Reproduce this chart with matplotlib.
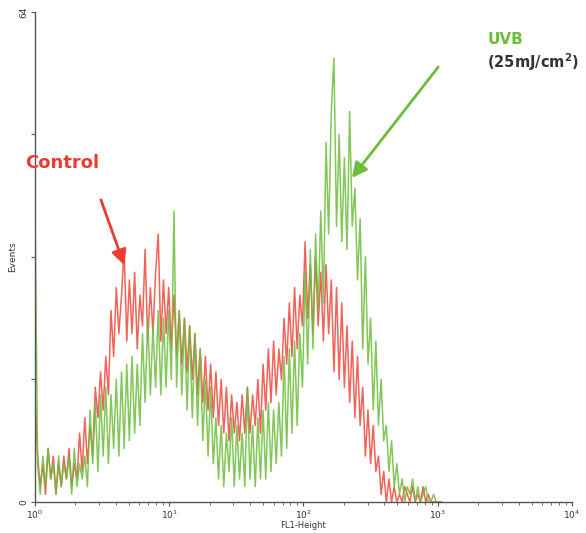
import numpy as np
import matplotlib.pyplot as plt

# FL1 channels (1024 channels over 4 decades), read every 5 channels
channels = np.arange(0, 780, 5)

control_counts = [
    14,
    6, 2, 5, 1, 7, 3, 6, 1, 5, 2, 6, 3, 7, 2, 5, 3,
    9, 4, 11, 5, 10, 6,
    15, 11, 17, 12, 19,
    14, 25, 19, 28, 22, 27,
    33,
    21, 29, 22, 30, 20, 27, 23, 33, 21, 28, 22, 30, 35, 21, 29, 22, 28, 20, 27,
    19, 25, 18, 24, 17, 23, 16, 22, 14, 20, 13, 19, 12, 18, 11,
    17, 10, 16, 9, 15, 8, 14, 9, 13, 8, 14, 9,
    15, 9, 14, 10, 16, 9,
    18, 12, 20, 13, 21, 14, 20,
    16, 24, 18, 26, 19, 28, 20, 27,
    23, 34, 24,
    31, 22, 32, 23, 30, 21, 31, 22,
    29, 17, 28, 16, 26, 15,
    23, 13, 21, 11, 19, 10,
    15, 6, 12, 5, 10, 4,
    6, 1, 4, 0, 3,
    0, 2, 0, 1, 0, 2, 1, 0, 2, 0, 1, 0, 2, 0, 1,
    0, 0, 0, 0, 0,
]

uvb_counts = [
    39,
    5, 1, 6, 2, 7, 3, 5, 1, 6, 2, 5, 3, 6, 1, 7, 2, 5, 3, 6, 2,
    12, 5, 13, 4, 14, 6, 15, 5, 14, 7, 16, 6,
    17, 7, 18, 8, 19, 9, 18, 10,
    22, 13, 24, 14, 23, 15, 25, 14, 24, 15, 25,
    16, 38,
    15, 25, 14, 24, 12, 23, 11, 22, 10, 20,
    8, 16, 6, 15, 5,
    11, 3, 10, 2, 9, 4, 11, 2, 10, 3, 9, 2, 15, 3, 10, 2, 11, 3,
    12, 3, 13, 4, 12, 5, 13,
    6, 19, 7, 20, 9, 21, 10, 22,
    15, 30, 18, 33, 20, 35,
    25, 38, 26,
    47, 35, 51, 58, 36, 48,
    34, 45, 33, 51, 36,
    41, 29, 37,
    20, 32, 18, 24,
    12, 21, 10, 16, 8,
    10, 4, 8, 2, 5, 1,
    3, 0, 2, 1, 3, 0, 2, 0, 1, 2, 0,
    0, 1, 0, 0, 0,
]

red = '#ee3b30'
green = '#6cbd3a'

fl1 = 10 ** (channels / 256.0)

fig = plt.figure(figsize=(5.86, 5.33), dpi=100)
ax = fig.add_axes([0.0597, 0.0582, 0.9164, 0.9193])

ax.plot(fl1, control_counts, color=red, lw=1.1, alpha=0.8)
ax.plot(fl1, uvb_counts, color=green, lw=1.1, alpha=0.85)

ax.set_xscale('log')
ax.set_xlim(1, 1e4)
ax.set_ylim(0, 64)

ax.spines['top'].set_visible(False)
ax.spines['right'].set_visible(False)
for s in ('left', 'bottom'):
    ax.spines[s].set_color('#555555')
    ax.spines[s].set_linewidth(1.0)

ax.set_xticks([1, 10, 100, 1000, 10000])
ax.set_xticklabels(['$10^0$', '$10^1$', '$10^2$', '$10^3$', '$10^4$'])
ax.set_yticks([0, 16, 32, 48, 64])
ax.set_yticklabels(['0', '', '', '', '64'], rotation=90, va='center')
ax.tick_params(axis='both', labelsize=6.5, length=3, color='#555555', labelcolor='#333333', pad=1.5)
ax.tick_params(axis='x', which='minor', length=2, color='#555555')

ax.set_xlabel('FL1-Height', fontsize=6, color='#333333', labelpad=0)
ax.set_ylabel('Events', fontsize=6.5, color='#333333', labelpad=2)

# annotations
ax.text(-0.019, 0.692, 'Control', transform=ax.transAxes, color=red,
        fontsize=13, fontweight='bold', va='center', ha='left', clip_on=False)
ax.annotate('', xy=(0.168, 0.478), xytext=(0.121, 0.622), xycoords='axes fraction',
            arrowprops=dict(arrowstyle='-|>,head_length=0.9,head_width=0.45',
                            color=red, lw=2))

ax.text(0.842, 0.943, 'UVB', transform=ax.transAxes, color=green,
        fontsize=11, fontweight='bold', va='center', ha='left', clip_on=False)
ax.text(0.842, 0.898, '(25mJ/cm$^\\mathbf{2}$)', transform=ax.transAxes, color='#333333',
        fontsize=10.5, fontweight='bold', va='center', ha='left', clip_on=False)
ax.annotate('', xy=(0.587, 0.657), xytext=(0.754, 0.892), xycoords='axes fraction',
            arrowprops=dict(arrowstyle='-|>,head_length=0.9,head_width=0.45',
                            color=green, lw=2))

fig.savefig('out.png', dpi=100)
